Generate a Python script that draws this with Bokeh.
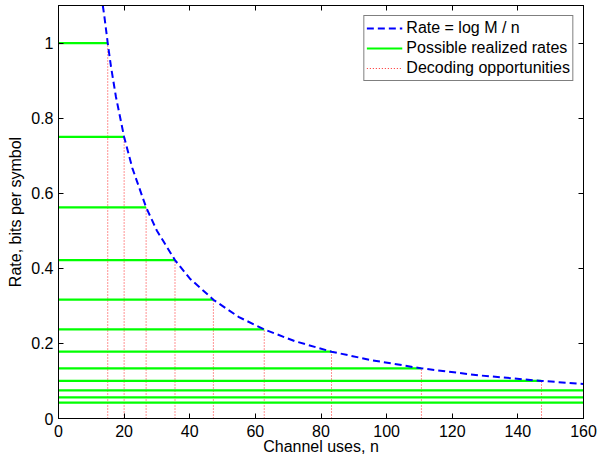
from bokeh.plotting import figure
from bokeh.models import Range1d, LinearAxis, FixedTicker, ColumnDataSource
from bokeh.embed import file_html
from bokeh.resources import INLINE

# ---- data ----
# decoding opportunities (channel uses n) and the rates reached there
n_dec = [15, 20, 26.7, 35.5, 47.2, 62.7, 83.2, 110.6, 147.2]
rates = [1.0, 0.75, 0.5625, 0.4219, 0.3164, 0.2373, 0.178, 0.1335, 0.1001,
         0.0751, 0.0563, 0.0422]
# dashed curve "Rate = log M / n", points read along it
curve_n = [13.5, 14, 15, 16, 17.5, 20, 22.5, 26.7, 30, 35.5, 40, 47.2, 55,
           62.7, 72, 83.2, 95, 110.6, 128, 147.2, 160]
curve_rate = [1.1, 1.07, 1.0, 0.937, 0.857, 0.75, 0.667, 0.5625, 0.5, 0.4219,
              0.373, 0.3164, 0.27, 0.2373, 0.206, 0.178, 0.156, 0.1335, 0.115,
              0.1001, 0.092]
x_ticks = [0, 20, 40, 60, 80, 100, 120, 140, 160]
y_ticks = [0, 0.2, 0.4, 0.6, 0.8, 1]
y_tick_labels = ["0", "0.2", "0.4", "0.6", "0.8", "1"]

X_MIN, X_MAX = 0, 160
Y_MIN, Y_MAX = 0, 1.1

FONT = "Liberation Sans"
FS = "16px"

p = figure(width=597, height=458, output_backend="svg",
           toolbar_location=None, x_range=Range1d(X_MIN, X_MAX),
           y_range=Range1d(Y_MIN, Y_MAX), min_border_left=58,
           min_border_right=14, min_border_top=5, min_border_bottom=40,
           background_fill_color="white", border_fill_color="white")
p.grid.visible = False
p.outline_line_color = "black"
p.outline_line_width = 1

# red dotted verticals
red_src = ColumnDataSource(dict(x=n_dec, y0=[0] * len(n_dec),
                                y1=rates[:len(n_dec)]))
p.segment(x0="x", y0="y0", x1="x", y1="y1", source=red_src,
          line_color="#ff0000", line_width=1, line_dash="1 2",
          line_alpha=0.85, legend_label="Decoding opportunities")

# green horizontals
green_end = n_dec + [X_MAX + 10] * (len(rates) - len(n_dec))
green_src = ColumnDataSource(dict(x0=[0] * len(rates), x1=green_end, y=rates))
p.segment(x0="x0", y0="y", x1="x1", y1="y", source=green_src,
          line_color="#00ff00", line_width=2.2,
          legend_label="Possible realized rates")

# blue dashed curve
p.line(curve_n, curve_rate, line_color="#0000ff", line_width=2,
       line_dash="7 4", legend_label="Rate = log M / n")

p.legend.items = list(reversed(p.legend.items))

# axes
for ax in (p.xaxis[0], p.yaxis[0]):
    ax.major_tick_in = 5
    ax.major_tick_out = 0
    ax.minor_tick_line_color = None
    ax.axis_line_color = "black"
    ax.major_tick_line_color = "black"
    ax.major_label_text_font = FONT
    ax.major_label_text_font_size = FS
    ax.major_label_text_color = "black"
    ax.axis_label_text_font = FONT
    ax.axis_label_text_font_size = FS
    ax.axis_label_text_font_style = "normal"
    ax.axis_label_text_color = "black"

p.xaxis[0].ticker = FixedTicker(ticks=x_ticks)
p.yaxis[0].ticker = FixedTicker(ticks=y_ticks)
p.yaxis[0].major_label_overrides = {t: l for t, l in zip(y_ticks, y_tick_labels)}
p.xaxis[0].axis_label = "Channel uses, n"
p.yaxis[0].axis_label = "Rate, bits per symbol"
p.xaxis[0].major_label_standoff = 6
p.xaxis[0].axis_label_standoff = -2
p.yaxis[0].major_label_standoff = 5
p.yaxis[0].axis_label_standoff = 4

top = LinearAxis(ticker=FixedTicker(ticks=x_ticks))
right = LinearAxis(ticker=FixedTicker(ticks=y_ticks))
for ax in (top, right):
    ax.major_tick_in = 5
    ax.major_tick_out = 0
    ax.minor_tick_line_color = None
    ax.axis_line_color = "black"
    ax.major_tick_line_color = "black"
    ax.major_label_text_font_size = "0px"
    ax.major_label_text_color = None
    ax.major_label_standoff = 0
    ax.axis_label = None
p.add_layout(top, "above")
p.add_layout(right, "right")

lg = p.legend[0]
lg.location = "top_right"
lg.margin = 10
lg.padding = 2
lg.spacing = 0
lg.border_line_color = "black"
lg.border_line_width = 1
lg.background_fill_color = "white"
lg.background_fill_alpha = 1
lg.label_text_font = FONT
lg.label_text_font_size = FS
lg.label_text_color = "black"
lg.glyph_width = 36
lg.glyph_height = 20
lg.label_height = 20
lg.label_standoff = 4

open("out.html", "w").write(file_html(p, INLINE))
